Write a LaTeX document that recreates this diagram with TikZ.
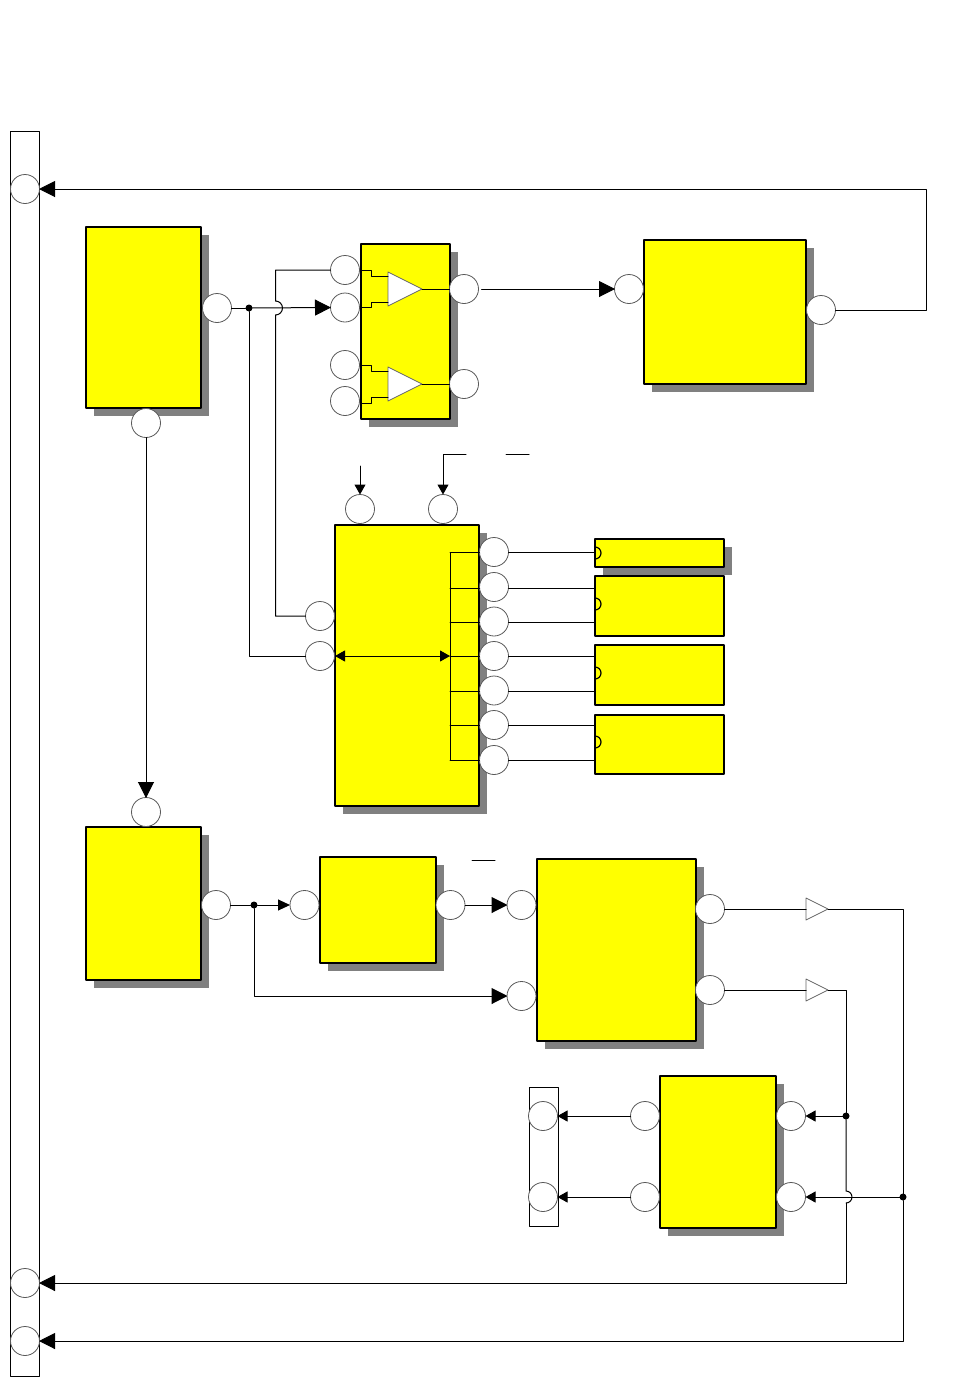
\documentclass[tikz,border=0pt]{standalone}
\usetikzlibrary{arrows.meta,shadows,shapes.geometric}
\definecolor{blockyellow}{RGB}{255,255,0}
\definecolor{shadowgray}{RGB}{128,128,128}
\tikzset{
  block/.style={draw,fill=blockyellow,line width=1.3pt,inner sep=0pt,outer sep=0pt},
  shadowblock/.style={block,drop shadow={shadow xshift=7.5pt,shadow yshift=-7.5pt,fill=shadowgray,opacity=1}},
  flatblock/.style={block,line width=1.1pt},
  bar/.style={draw,fill=white,line width=1pt,inner sep=0pt,outer sep=0pt,minimum width=29pt},
  pin/.style={circle,draw=black!65,fill=white,line width=0.8pt,minimum size=29pt,inner sep=0pt,outer sep=0pt},
  junction/.style={circle,fill=black,minimum size=7pt,inner sep=0pt,outer sep=0pt},
  amp/.style={isosceles triangle,isosceles triangle stretches,draw=black!60,fill=white,line width=0.8pt,
    minimum width=34pt,minimum height=34pt,inner sep=0pt,outer sep=0pt,anchor=apex},
  buffer/.style={amp,minimum width=22pt,minimum height=22pt},
  bigarrow/.style={-{Triangle[length=16pt,width=16pt]},shorten >=-0.5pt},
  midarrow/.style={-{Triangle[length=10pt,width=11pt]}},
}
\begin{document}
\begin{tikzpicture}[x=1pt,y=-1pt,line width=1pt,line cap=round,line join=round]
  \useasboundingbox (0,0) rectangle (966,1377);
  \node[bar,minimum height=1245pt] (busl) at (24.5,753.5) {};
  \node[bar,minimum height=139pt] (busr) at (543.5,1156.5) {};
  \node[shadowblock,minimum width=115pt,minimum height=181pt] (src1) at (143.5,317.5) {};
  \node[shadowblock,minimum width=89pt,minimum height=175pt] (ampbox) at (405.5,331.5) {};
  \node[shadowblock,minimum width=162pt,minimum height=144pt] (load) at (725,312) {};
  \node[shadowblock,minimum width=144pt,minimum height=281pt] (ctrl) at (407,665.5) {};
  \node[shadowblock,minimum width=129pt,minimum height=28pt] (rom1) at (659.5,553) {};
  \node[flatblock,minimum width=129pt,minimum height=60pt] (rom2) at (659.5,606) {};
  \node[flatblock,minimum width=129pt,minimum height=60pt] (rom3) at (659.5,675) {};
  \node[flatblock,minimum width=129pt,minimum height=59pt] (rom4) at (659.5,744.5) {};
  \node[shadowblock,minimum width=115pt,minimum height=153pt] (src2) at (143.5,903.5) {};
  \node[shadowblock,minimum width=116pt,minimum height=106pt] (reg) at (378,910) {};
  \node[shadowblock,minimum width=159pt,minimum height=182pt] (mux) at (616.5,950) {};
  \node[shadowblock,minimum width=116pt,minimum height=152pt] (out) at (718,1152) {};

  \node[pin] (l1) at (25,189) {};
  \node[pin] (l2) at (25,1283) {};
  \node[pin] (l3) at (25,1341) {};
  \node[pin] (s1e) at (217,308) {};
  \node[pin] (s1s) at (146,423) {};
  \node[pin] (a1) at (345,270) {};
  \node[pin] (a2) at (345,307.5) {};
  \node[pin] (a3) at (345,365) {};
  \node[pin] (a4) at (345,401) {};
  \node[pin] (a5) at (464,289) {};
  \node[pin] (a6) at (464,384) {};
  \node[pin] (c1) at (629,289) {};
  \node[pin] (c2) at (821,310) {};
  \node[pin] (t1) at (360,509) {};
  \node[pin] (t2) at (443,509) {};
  \node[pin] (b1) at (320,616) {};
  \node[pin] (b2) at (320,656) {};
  \foreach \n/\y in {1/552,2/587,3/621.5,4/656,5/690.5,6/725,7/760}
    \node[pin] (q\n) at (494,\y) {};
  \node[pin] (s2n) at (146,812) {};
  \node[pin] (s2e) at (216,905) {};
  \node[pin] (r1) at (304.5,905) {};
  \node[pin] (r2) at (450.5,905) {};
  \node[pin] (m1) at (521.5,905) {};
  \node[pin] (m2) at (521.5,996) {};
  \node[pin] (m3) at (710,909) {};
  \node[pin] (m4) at (710,990) {};
  \node[pin] (g1) at (791,1116) {};
  \node[pin] (g2) at (791,1197) {};
  \node[pin] (g3) at (645,1116) {};
  \node[pin] (g4) at (645,1197) {};
  \node[pin] (h1) at (543,1116) {};
  \node[pin] (h2) at (543,1197) {};

  \node[junction] (dot1) at (249,308) {};
  \node[junction] (dot2) at (254,905) {};
  \node[junction] (dot3) at (846,1116) {};
  \node[junction] (dot4) at (903,1197) {};

  \node[amp] (tri1) at (422,289) {};
  \node[amp] (tri2) at (422,384) {};
  \node[buffer] (tri3) at (828,909) {};
  \node[buffer] (tri4) at (828,990) {};

  \foreach \n/\y/\t in {1/270/276.5,2/307/302,3/365.5/371.5,4/403/397} {
    \coordinate (st\n) at (361,\y);
    \coordinate (en\n) at (388,\t);
    \draw (st\n) -- ++(10,0) |- (en\n);
  }
  \draw (tri1.apex) -- (a5.west);
  \draw (tri2.apex) -- (a6.west);

  \coordinate (hop1) at (275.5,301);
  \coordinate (hop2) at (846,1191);
  \coordinate (ne) at (926,310);
  \coordinate (vin) at (360,466);
  \coordinate (oe1) at (443,454.5);
  \coordinate (oe2) at (466,454.5);
  \coordinate (oe3) at (506,454.5);
  \coordinate (oe4) at (529,454.5);
  \coordinate (oe5) at (472,860);
  \coordinate (oe6) at (495,860);
  \coordinate (busa) at (450,552.5);
  \coordinate (busb) at (450,760);
  \coordinate (busc) at (450,656);

  \draw (s1e.east) -- (dot1);
  \draw[bigarrow] (dot1) -- (a2.west);
  \draw (dot1) |- (b2.west);
  \draw (a1.west) -| (hop1) arc[start angle=90,end angle=-90,radius=7pt] |- (b1.west);
  \draw[bigarrow,shorten <=3pt] (a5.east) -- (c1.west);
  \draw[bigarrow] (c2.east) -- (ne) |- (l1.east);
  \draw[bigarrow] (s1s.south) -- (s2n.north);

  \draw[midarrow] (vin) -- (t1.north);
  \draw[midarrow] (oe2) -- (oe1) -- (t2.north);
  \draw (oe3) -- (oe4);
  \draw (oe5) -- (oe6);

  \draw (busa) -- (busb);
  \draw[{Triangle[length=10pt,width=11pt]}-{Triangle[length=10pt,width=11pt]}] (ctrl.west |- busc) -- (busc);
  \foreach \n/\y/\r in {1/552.5/rom1,2/588/rom2,3/622.5/rom2,4/656/rom3,5/691/rom3,6/725/rom4,7/760/rom4} {
    \coordinate (tap\n) at (450,\y);
    \draw (tap\n) -- (q\n.west |- tap\n);
    \draw (q\n.east |- tap\n) -- (\r.west |- tap\n);
  }
  \foreach \r/\y in {rom1/553,rom2/604,rom3/673,rom4/742}
    \draw[line width=1.2pt] (\r.west |- 0,\y) ++(0,-6) arc[start angle=90,end angle=-90,radius=6pt];

  \draw (s2e.east) -- (dot2);
  \draw[-{Triangle[length=12pt,width=11pt]}] (dot2) -- (r1.west);
  \draw[bigarrow] (dot2) |- (m2.west);
  \draw[bigarrow] (r2.east) -- (m1.west);
  \draw (m3.east) -- (tri3.west);
  \draw (m4.east) -- (tri4.west);
  \draw (tri3.apex) -| (dot4);
  \draw[bigarrow] (dot4) |- (l3.east);
  \draw (tri4.apex) -| (dot3);
  \draw (dot3) -- (hop2) arc[start angle=90,end angle=-90,radius=6pt] coordinate (hop3);
  \draw[bigarrow] (hop3) |- (l2.east);
  \draw[midarrow] (dot3) -- (g1.east);
  \draw[midarrow] (dot4) -- (g2.east);
  \draw[midarrow] (g3.west) -- (h1.east);
  \draw[midarrow] (g4.west) -- (h2.east);
\end{tikzpicture}
\end{document}
